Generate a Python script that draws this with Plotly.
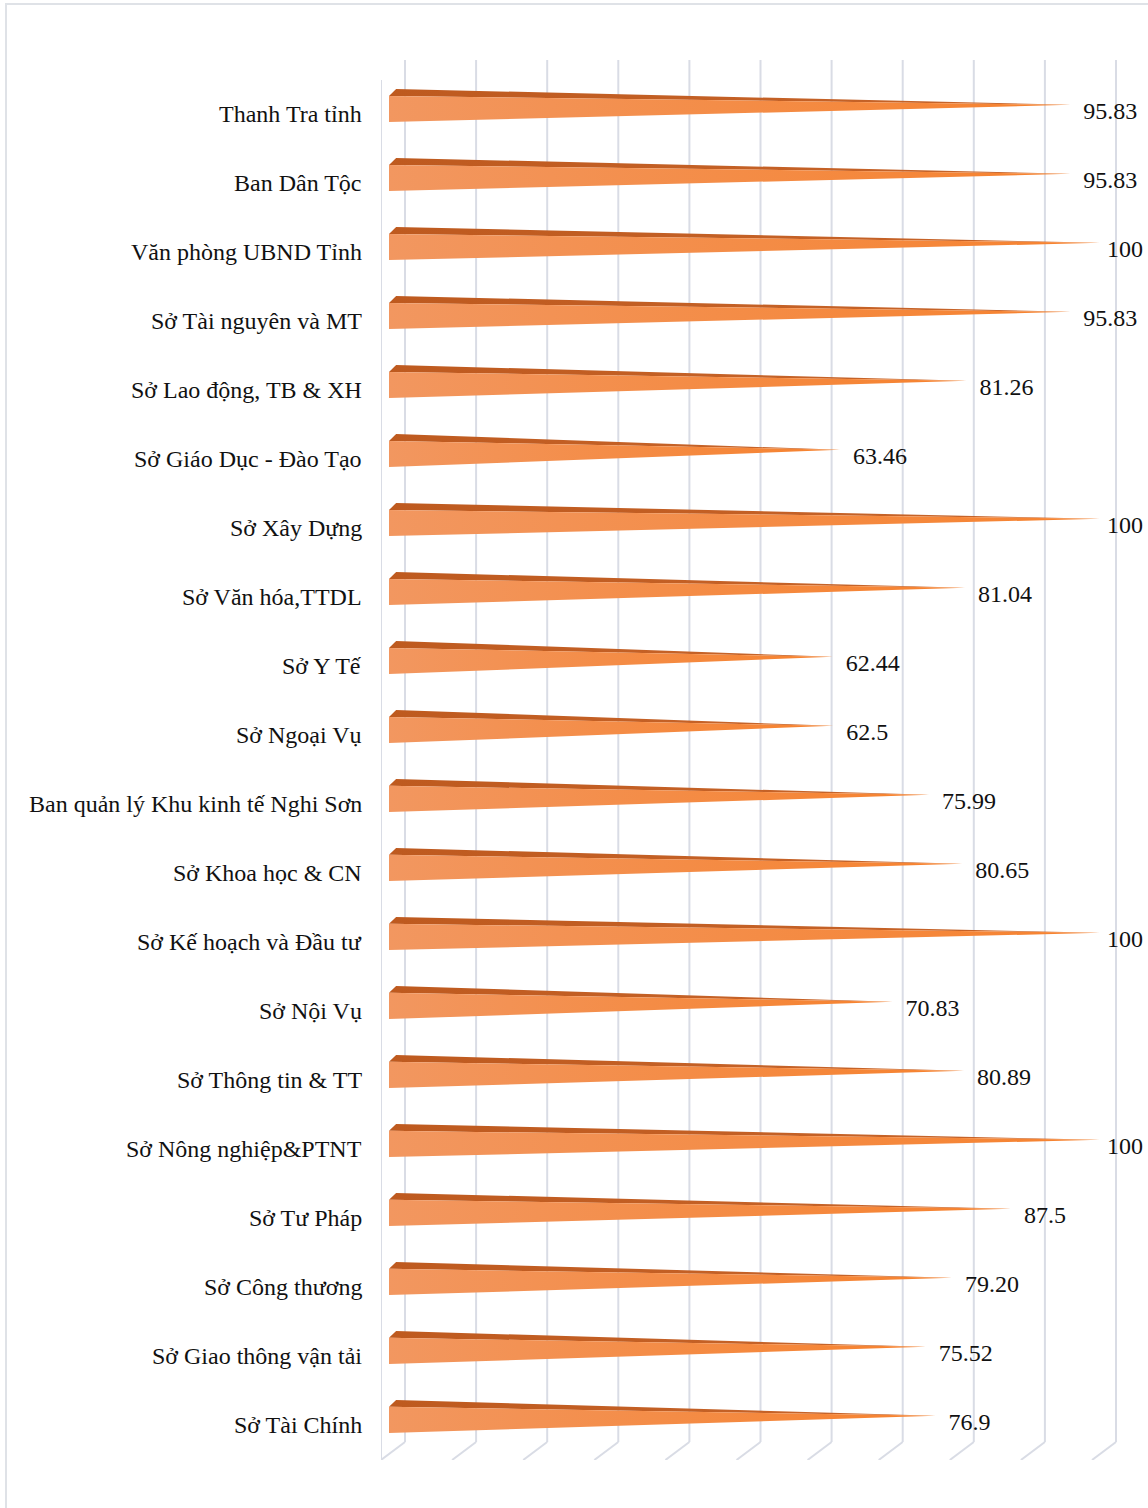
import plotly.graph_objects as go

categories = [
    "Thanh Tra tỉnh", "Ban Dân Tộc", "Văn phòng UBND Tỉnh", "Sở Tài nguyên và MT",
    "Sở Lao động, TB & XH", "Sở Giáo Dục - Đào Tạo", "Sở Xây Dựng", "Sở Văn hóa,TTDL",
    "Sở Y Tế", "Sở Ngoại Vụ", "Ban quản lý Khu kinh tế Nghi Sơn", "Sở Khoa học & CN",
    "Sở Kế hoạch và Đầu tư", "Sở Nội Vụ", "Sở Thông tin & TT", "Sở Nông nghiệp&PTNT",
    "Sở Tư Pháp", "Sở Công thương", "Sở Giao thông vận tải", "Sở Tài Chính",
]
values = [95.83, 95.83, 100, 95.83, 81.26, 63.46, 100, 81.04, 62.44, 62.5,
          75.99, 80.65, 100, 70.83, 80.89, 100, 87.5, 79.20, 75.52, 76.9]
value_labels = ["95.83", "95.83", "100", "95.83", "81.26", "63.46", "100", "81.04", "62.44", "62.5",
                "75.99", "80.65", "100", "70.83", "80.89", "100", "87.5", "79.20", "75.52", "76.9"]
grid_ticks = [0, 10, 20, 30, 40, 50, 60, 70, 80, 90, 100]

W, H = 1148, 1508
ML, MR, MT, MB = 381, 0, 60, 48
X_RANGE = [-1.125, 106.75]
Y_TOP, Y_BOT = -0.71, 19.58

FONT = "Liberation Serif, Times New Roman, serif"
FSIZE = 24

# geometry (data units)
HALF_H = 0.19      # half height of front face
DX = 1.0           # depth offset in x
DY = 0.10          # depth offset in y
TIP_UP = 0.06      # tip above center
BACK_DX = 2.25     # back wall offset
FLOOR_BACK_Y = 19.32
LABEL_GAP = 1.8
LABEL_MAX_X = 101.0

fig = go.Figure()

for i, (cat, v) in enumerate(zip(categories, values)):
    yt = i - HALF_H
    yb = i + HALF_H
    ytip = i - TIP_UP
    # top face
    fig.add_trace(go.Scatter(
        x=[0, DX, v, 0], y=[yt, yt - DY, ytip, yt],
        mode="lines", fill="toself", line=dict(width=0),
        fillgradient=dict(type="horizontal",
                          colorscale=[[0, "#BE5A1F"], [1, "#C8652A"]],
                          start=0, stop=v),
        hoverinfo="skip", showlegend=False))
    # front face
    fig.add_trace(go.Scatter(
        x=[0, v, 0, 0], y=[yt, ytip, yb, yt],
        mode="lines", fill="toself", line=dict(width=0),
        fillgradient=dict(type="horizontal",
                          colorscale=[[0, "#F29760"], [1, "#F6822E"]],
                          start=0, stop=v),
        hoverinfo="skip", showlegend=False))

# value labels (kept inside the chart area like the original)
fig.add_trace(go.Scatter(
    x=[min(v + LABEL_GAP, LABEL_MAX_X) for v in values],
    y=[i + 0.06 for i in range(len(values))],
    mode="text", text=value_labels, textposition="middle right",
    textfont=dict(family=FONT, size=FSIZE, color="#111111"),
    hoverinfo="skip", showlegend=False, cliponaxis=False))

# category labels
annotations = []
for i, cat in enumerate(categories):
    annotations.append(dict(
        xref="paper", yref="y", x=(364 - ML) / (W - ML - MR), y=i,
        text=cat, showarrow=False, xanchor="right", yanchor="middle", yshift=-5,
        font=dict(family=FONT, size=FSIZE, color="#111111")))

shapes = []
GRID = "#D9DCE5"
for t in grid_ticks:
    shapes.append(dict(type="line", xref="x", yref="y", x0=t + BACK_DX, x1=t + BACK_DX,
                       y0=Y_TOP, y1=FLOOR_BACK_Y, line=dict(color=GRID, width=2), layer="below"))
    shapes.append(dict(type="line", xref="x", yref="y", x0=t + BACK_DX, x1=t - 1.125,
                       y0=FLOOR_BACK_Y, y1=Y_BOT, line=dict(color=GRID, width=2), layer="below"))
shapes.append(dict(type="line", xref="x", yref="y", x0=-1.125, x1=-1.125,
                   y0=-0.42, y1=Y_BOT, line=dict(color=GRID, width=2), layer="below"))

# outer chart border (paper coords relative to plot area)
pw = W - ML - MR
ph = H - MT - MB
def px_to_paper_x(px):
    return (px - ML) / pw
def px_to_paper_y(py):
    return 1 - (py - MT) / ph
shapes.append(dict(type="rect", xref="paper", yref="paper",
                   x0=px_to_paper_x(6), x1=px_to_paper_x(1160),
                   y0=px_to_paper_y(1530), y1=px_to_paper_y(4),
                   line=dict(color="#DFE2E7", width=2), layer="below"))

fig.update_layout(
    width=W, height=H,
    margin=dict(l=ML, r=MR, t=MT, b=MB),
    paper_bgcolor="white", plot_bgcolor="white",
    shapes=shapes, annotations=annotations,
    xaxis=dict(range=X_RANGE, showgrid=False, zeroline=False, showticklabels=False,
               showline=False, fixedrange=True),
    yaxis=dict(range=[Y_BOT, Y_TOP], showgrid=False, zeroline=False, showline=False,
               showticklabels=False, fixedrange=True),
)

fig.write_html("out.html")
